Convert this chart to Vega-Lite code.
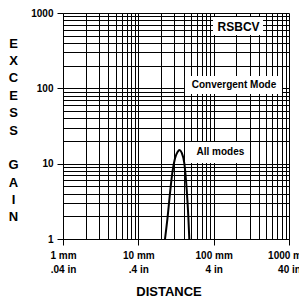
{
  "$schema": "https://vega.github.io/schema/vega-lite/v6.json",
  "width": 226,
  "height": 226,
  "autosize": {"type": "none"},
  "padding": {"left": 63, "top": 13, "right": 10, "bottom": 59},
  "background": "white",
  "config": {"view": {"stroke": null}, "font": "Liberation Sans"},
  "datasets": {
    "curve": [
      {"x": 22.6, "y": 1},
      {"x": 24.5, "y": 1.98},
      {"x": 26.3, "y": 4.04},
      {"x": 28.2, "y": 7.45},
      {"x": 30.7, "y": 11.8},
      {"x": 33.3, "y": 14.4},
      {"x": 35.0, "y": 15.2},
      {"x": 37.6, "y": 14.0},
      {"x": 40.8, "y": 10.1},
      {"x": 43.9, "y": 4.47},
      {"x": 46.1, "y": 1.98},
      {"x": 47.5, "y": 1}
    ],
    "notes": [
      {"label": "RSBCV", "x": 214, "y": 652, "x1": 98, "x2": 452, "y1": 511, "y2": 885},
      {"label": "Convergent Mode", "x": 186, "y": 111, "x1": 41.6, "x2": 807, "y1": 84, "y2": 146},
      {"label": "All modes", "x": 123, "y": 14.3, "x1": 50, "x2": 294, "y1": 10.2, "y2": 19.4}
    ]
  },
  "layer": [
    {
      "data": {"name": "curve"},
      "mark": {"type": "line", "color": "black", "strokeWidth": 2, "interpolate": "monotone", "clip": true},
      "encoding": {
        "x": {
          "field": "x", "type": "quantitative",
          "scale": {"type": "log", "domain": [1, 1000], "nice": false},
          "axis": {
            "values": [1,2,3,4,5,6,7,8,9,10,20,30,40,50,60,70,80,90,100,200,300,400,500,600,700,800,900,1000],
            "grid": true, "gridColor": "black", "gridWidth": 1, "gridOpacity": 1,
            "domainColor": "black", "domainWidth": 1,
            "tickColor": "black", "tickSize": 6, "tickWidth": 1,
            "tickOpacity": {"condition": {"test": "datum.value == 1 || datum.value == 10 || datum.value == 100 || datum.value == 1000", "value": 1}, "value": 0},
            "labelExpr": "datum.value == 1 ? ['1 mm', '.04 in'] : datum.value == 10 ? ['10 mm', '.4 in'] : datum.value == 100 ? ['100 mm', '4 in'] : datum.value == 1000 ? ['1000 mm', '40 in'] : ''",
            "labelFlush": false, "labelOverlap": false,
            "labelFont": "Liberation Sans", "labelFontSize": 10, "labelFontWeight": "bold", "labelColor": "black",
            "labelPadding": 5, "labelLineHeight": 14,
            "title": "DISTANCE", "titleFont": "Liberation Sans", "titleFontSize": 13, "titleFontWeight": "bold", "titleColor": "black",
            "titleX": 105.5, "titleY": 56.5, "titleAlign": "center", "titleBaseline": "alphabetic"
          }
        },
        "y": {
          "field": "y", "type": "quantitative",
          "scale": {"type": "log", "domain": [1, 1000], "nice": false},
          "axis": {
            "values": [1,2,3,4,5,6,7,8,9,10,20,30,40,50,60,70,80,90,100,200,300,400,500,600,700,800,900,1000],
            "grid": true, "gridColor": "black", "gridWidth": 1, "gridOpacity": 1,
            "domainColor": "black", "domainWidth": 1,
            "tickColor": "black", "tickSize": 6, "tickWidth": 1,
            "tickOpacity": {"condition": {"test": "datum.value == 1 || datum.value == 10 || datum.value == 100 || datum.value == 1000", "value": 1}, "value": 0},
            "format": "d",
            "labelExpr": "(datum.value == 1 || datum.value == 10 || datum.value == 100 || datum.value == 1000) ? datum.label : ''",
            "labelFlush": false, "labelOverlap": false,
            "labelFont": "Liberation Sans", "labelFontSize": 10, "labelFontWeight": "bold", "labelColor": "black",
            "labelPadding": 4,
            "title": ["E", "X", "C", "E", "S", "S", "\u200b", "G", "A", "I", "N"],
            "titleFont": "Liberation Sans", "titleFontSize": 13, "titleFontWeight": "bold", "titleColor": "black",
            "titleAngle": 0, "titleX": -50, "titleY": 30, "titleAlign": "center", "titleBaseline": "middle", "titleLineHeight": 17.4
          }
        }
      }
    },
    {
      "data": {"name": "notes"},
      "mark": {"type": "rect", "color": "white"},
      "encoding": {
        "x": {"field": "x1", "type": "quantitative"},
        "x2": {"field": "x2"},
        "y": {"field": "y1", "type": "quantitative"},
        "y2": {"field": "y2"}
      }
    },
    {
      "data": {"name": "notes"},
      "mark": {"type": "text", "color": "black", "font": "Liberation Sans", "fontWeight": "bold", "align": "center", "baseline": "middle"},
      "encoding": {
        "x": {"field": "x", "type": "quantitative"},
        "y": {"field": "y", "type": "quantitative"},
        "text": {"field": "label"},
        "size": {"condition": {"test": "datum.label == 'RSBCV'", "value": 12}, "value": 10}
      }
    }
  ]
}
